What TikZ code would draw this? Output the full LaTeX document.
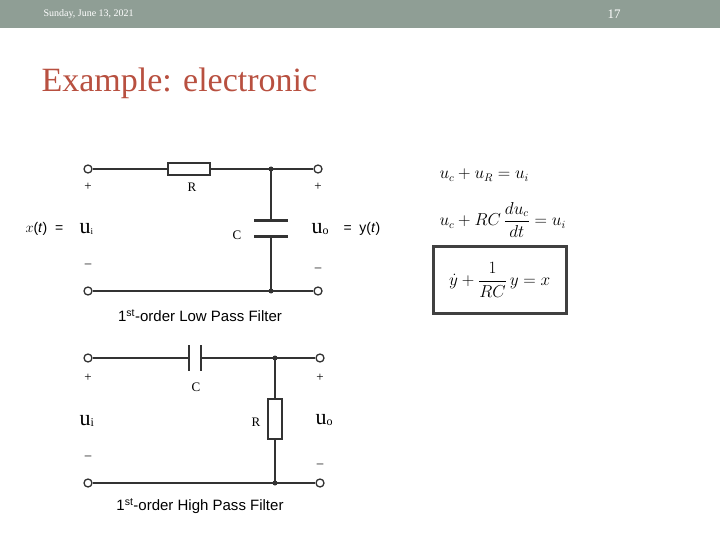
\documentclass[tikz,border=0pt]{standalone}
\usepackage{fontspec}
\setmainfont{Liberation Serif}
\newfontfamily\arial{Liberation Sans}
\begin{document}
\begin{tikzpicture}[x=1pt,y=-1pt,
 w/.style={line width=1.3pt,black!80},
 term/.style={circle,draw=black!80,line width=1.3pt,fill=white,inner sep=0,minimum size=8pt},
 lab/.style={font=\fontsize{13}{13}\selectfont},
 big/.style={font=\fontsize{22}{22}\selectfont},
 captxt/.style={font=\arial\fontsize{15}{15}\selectfont},
 eq/.style={font=\fontsize{16}{16}\selectfont,anchor=west}]
\useasboundingbox (0,0) rectangle (720,540);
\fill[fill={rgb,255:red,143;green,158;blue,149}] (0,0) rectangle (720,28);
\node[white,font=\fontsize{10}{10}\selectfont,anchor=west] (date) at (40,14) {Sunday, June 13, 2021};
\node[white,font=\fontsize{13}{13}\selectfont] (pg) at (614,14) {17};
\node[anchor=west,text={rgb,255:red,184;green,80;blue,64},font=\fontsize{34}{34}\selectfont] (title) at (38,83) {Example: electronic};
% low pass
\node[term] (a1) at (88,169) {};
\node[term] (a2) at (318,169) {};
\node[term] (a3) at (88,291) {};
\node[term] (a4) at (318,291) {};
\node[draw=black!80,line width=1.3pt,minimum width=42pt,minimum height=12pt,inner sep=0] (R1) at (189,169) {};
\coordinate (j1) at (271,169);
\coordinate (j2) at (271,291);
\coordinate (c1) at (271,221);
\coordinate (c2) at (271,236);
\draw[w] (a1) -- (R1) -- (a2);
\draw[w] (a3) -- (a4);
\draw[w] (j1) -- (c1); \draw[w] (c2) -- (j2);
\draw[line width=3pt,black!80] (254,221) -- (288,221) (254,236) -- (288,236);
\fill[black!80] (j1) circle (2.5) (j2) circle (2.5);
\node[lab] (p1) at (88,187) {+};
\node[lab] (rl1) at (192,187) {R};
\node[lab] (p2) at (318,187) {+};
\node[lab] (m1) at (88,266) {--};
\node[lab] (m2) at (318,270) {--};
\node[lab] (cl1) at (237,235) {C};
\node[anchor=west,font=\arial\fontsize{14}{14}\selectfont] (xt) at (22,229) {$x$(\textit{t})\ \ = };
\node[big,anchor=west] (ui1) at (76,229) {u\raisebox{-1pt}{\fontsize{9}{9}\selectfont i}};
\node[big,anchor=west] (uo1) at (308,229) {u\raisebox{-1pt}{\fontsize{12}{12}\selectfont o}};
\node[anchor=west,font=\arial\fontsize{14}{14}\selectfont] (yt) at (340,229) {=\ \ y(\textit{t})};
\node[captxt] (cap1) at (200,316) {1\textsuperscript{st}-order Low Pass Filter};
% high pass
\node[term] (b1) at (88,358) {};
\node[term] (b2) at (320,358) {};
\node[term] (b3) at (88,483) {};
\node[term] (b4) at (320,483) {};
\coordinate (cp1) at (189,358);
\coordinate (cp2) at (201,358);
\coordinate (k1) at (275,358);
\coordinate (k2) at (275,483);
\node[draw=black!80,line width=1.3pt,minimum width=14pt,minimum height=40pt,inner sep=0] (R2) at (275,419) {};
\draw[w] (b1) -- (cp1); \draw[w] (cp2) -- (b2);
\draw[line width=2.5pt,black!80] (189,345) -- (189,371) (201,345) -- (201,371);
\draw[w] (b3) -- (b4);
\draw[w] (k1) -- (R2) -- (k2);
\fill[black!80] (k1) circle (2.5) (k2) circle (2.5);
\node[lab] (p3) at (88,378) {+};
\node[lab] (p4) at (320,378) {+};
\node[lab] (cl2) at (196,387) {C};
\node[lab] (rl2) at (256,422) {R};
\node[big,anchor=west] (ui2) at (76,421) {u\raisebox{-1pt}{\fontsize{12}{12}\selectfont i}};
\node[big,anchor=west] (uo2) at (312,420) {u\raisebox{-1pt}{\fontsize{12}{12}\selectfont o}};
\node[lab] (m3) at (88,458) {--};
\node[lab] (m4) at (320,466) {--};
\node[captxt] (cap2) at (200,506) {1\textsuperscript{st}-order High Pass Filter};
% equations
\node[eq] (e1) at (436,175) {$u_c + u_R = u_i$};
\node[eq] (e2) at (436,220) {$\displaystyle u_c + RC\,\frac{du_c}{dt} = u_i$};
\node[eq,draw=black!75,line width=2.5pt,minimum width=133pt,minimum height=67pt,anchor=west] (e3) at (432,280) {$\displaystyle \dot y + \frac{1}{RC}\,y = x$};
\end{tikzpicture}
\end{document}
